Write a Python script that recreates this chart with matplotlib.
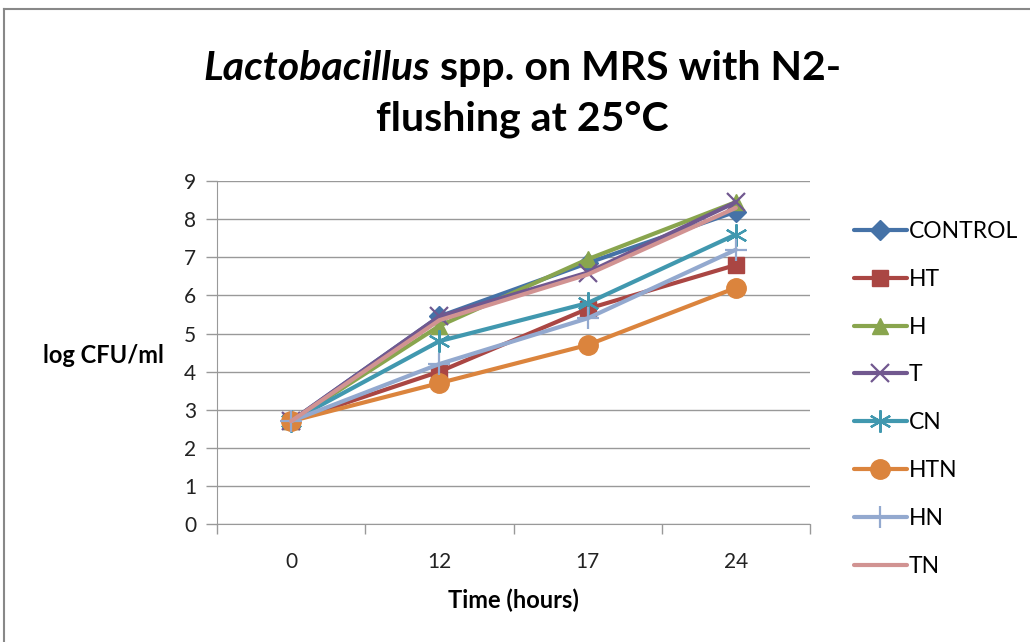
import matplotlib
matplotlib.use('Agg')
import matplotlib.pyplot as plt
from matplotlib.lines import Line2D

plt.rcParams['font.family'] = ['Lato', 'DejaVu Sans']

# Data
times = ['0', '12', '17', '24']
control = [2.7, 5.45, 6.85, 8.2]
ht = [2.7, 4.0, 5.65, 6.8]
h = [2.7, 5.2, 6.95, 8.45]
t = [2.7, 5.45, 6.6, 8.45]
cn = [2.7, 4.8, 5.8, 7.6]
htn = [2.7, 3.7, 4.7, 6.2]
hn = [2.7, 4.2, 5.4, 7.2]
tn = [2.7, 5.35, 6.55, 8.3]

series = [
    ('CONTROL', control, '#4572A7', 'D', 10),
    ('HT', ht, '#AA4643', 's', 12),
    ('H', h, '#89A54E', '^', 12),
    ('T', t, '#71588F', 'x', 13),
    ('CN', cn, '#4198AF', (6, 2, 0), 16),
    ('HTN', htn, '#DB843D', 'o', 14),
    ('HN', hn, '#93A9CF', '+', 16),
    ('TN', tn, '#D19392', None, 0),
]

fig = plt.figure(figsize=(10.3, 6.42), dpi=100)
ax = fig.add_axes([0.2107, 0.1838, 0.5757, 0.534])

xs = range(len(times))
handles = []
for name, vals, col, mk, ms in series:
    mew = 1.6 if mk in ('x', '+', (6, 2, 0)) else 1
    ax.plot(xs, vals, color=col, lw=3, marker=mk, markersize=ms,
            markeredgewidth=mew, markeredgecolor=col, markerfacecolor=col,
            label=name, solid_capstyle='round', zorder=3)
    handles.append(Line2D([], [], color=col, lw=3, marker=mk, markersize=ms,
                          markeredgewidth=mew, markeredgecolor=col,
                          markerfacecolor=col, solid_capstyle='round'))

ax.set_xlim(-0.5, len(times) - 0.5)
ax.set_ylim(0, 9)
ax.set_yticks(range(0, 10))
ax.set_xticks(xs)
ax.set_xticklabels(times)
ax.set_xticks([i - 0.5 for i in range(len(times) + 1)], minor=True)
ax.tick_params(axis='x', which='major', length=0, labelsize=15, pad=20, colors='#222222')
ax.tick_params(axis='x', which='minor', length=7, width=1, color='#999999', direction='out')
ax.tick_params(axis='y', length=8, width=1, labelsize=15, pad=7, colors='#222222')
ax.tick_params(axis='y', color='#999999')
ax.yaxis.grid(True, color='#999999', lw=1)
ax.set_axisbelow(True)
for s in ['top', 'right']:
    ax.spines[s].set_visible(False)
for s in ['left', 'bottom']:
    ax.spines[s].set_color('#999999')

fig.text(0.4981, 0.0654, 'Time (hours)', ha='center', va='center',
         fontsize=17, fontweight='bold')
fig.text(0.1, 0.447, 'log CFU/ml', ha='center', va='center',
         fontsize=17, fontweight='bold')

fig.legend(handles, [s[0] for s in series], loc='upper left',
           bbox_to_anchor=(0.809, 0.688), frameon=False, fontsize=16.5,
           handlelength=2.3, handletextpad=0.1, labelspacing=1.17)

# title with italic genus name
fig.canvas.draw()
r = fig.canvas.get_renderer()
t1 = fig.text(0, 0.894, 'Lactobacillus', fontsize=29.5, fontweight='bold',
              style='italic', va='center')
t2 = fig.text(0, 0.894, ' spp. on MRS with N2-', fontsize=29.5,
              fontweight='bold', va='center')
w1 = t1.get_window_extent(r).width
w2 = t2.get_window_extent(r).width
W = fig.bbox.width
x0 = 522 - (w1 + w2) / 2
t1.set_x(x0 / W)
t2.set_x((x0 + w1) / W)
fig.text(522 / W, 0.814, 'flushing at 25°C', fontsize=29.5, fontweight='bold',
         ha='center', va='center')

# outer frame
fig.add_artist(Line2D([0.004, 0.004], [0, 0.986], color='#888888', lw=1.5,
                      transform=fig.transFigure))
fig.add_artist(Line2D([0.004, 1], [0.986, 0.986], color='#888888', lw=1.5,
                      transform=fig.transFigure))

fig.savefig('out.png', dpi=100)
